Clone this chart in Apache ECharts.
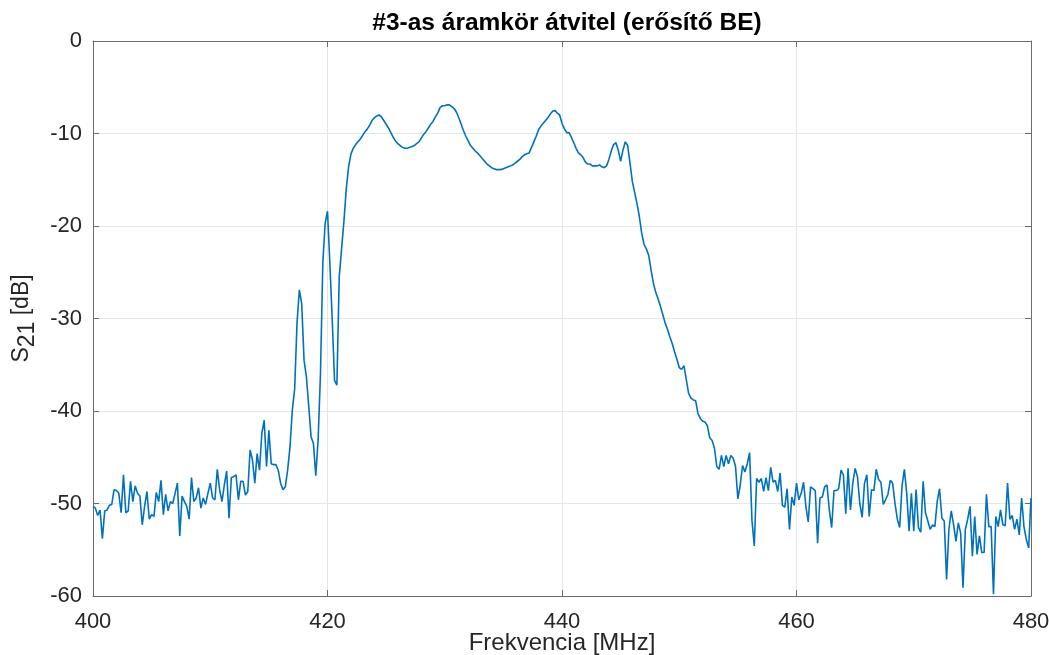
<!DOCTYPE html>
<html>
<head>
<meta charset="utf-8">
<script src="https://cdn.jsdelivr.net/npm/echarts@6/dist/echarts.min.js"></script>
<style>
html,body{margin:0;padding:0;background:#fff;}
#chart{width:1049px;height:655px;}
</style>
</head>
<body>
<div id="chart"></div>
<script>
// Measurement: S21 [dB] sampled every 0.2 MHz from 400 to 480 MHz
const freqStart = 400;
const freqStep = 0.2;
const s21 = [
-50.3,-50.5,-51.3,-50.7,-53.8,-50.8,-50.7,-50.2,-50.1,-48.5,
-48.6,-48.9,-51.0,-46.9,-51.0,-50.8,-47.6,-49.8,-48.1,-48.9,
-49.2,-52.3,-50.3,-48.7,-51.7,-51.2,-51.4,-48.8,-49.8,-47.5,
-51.2,-49.0,-50.8,-49.8,-50.0,-48.9,-47.8,-53.5,-49.2,-49.8,
-50.3,-51.7,-47.2,-49.8,-49.4,-48.3,-50.5,-49.4,-50.1,-48.9,
-47.8,-49.4,-49.6,-46.3,-48.5,-49.8,-48.0,-46.5,-51.6,-47.2,
-47.1,-46.9,-49.6,-47.6,-47.6,-49.1,-48.7,-44.2,-45.3,-47.8,
-44.6,-46.4,-42.4,-41.0,-46.0,-42.1,-45.7,-45.8,-45.8,-46.4,
-47.8,-48.5,-48.2,-46.4,-43.9,-39.9,-37.6,-30.5,-26.9,-28.4,
-34.5,-36.3,-39.5,-42.8,-43.5,-47.0,-43.1,-36.0,-24.0,-19.7,
-18.4,-24.0,-30.0,-36.7,-37.2,-25.5,-22.5,-19.5,-16.0,-13.6,
-12.2,-11.6,-11.2,-10.9,-10.6,-10.2,-9.8,-9.5,-9.1,-8.6,
-8.3,-8.1,-8.0,-8.2,-8.6,-9.0,-9.4,-9.9,-10.4,-10.8,
-11.1,-11.3,-11.5,-11.6,-11.6,-11.5,-11.4,-11.3,-11.1,-10.9,
-10.5,-10.1,-9.8,-9.4,-9.0,-8.7,-8.2,-7.8,-7.2,-7.0,
-7.0,-6.9,-6.9,-7.1,-7.3,-7.7,-8.3,-9.0,-9.7,-10.3,
-10.8,-11.3,-11.6,-11.9,-12.1,-12.4,-12.7,-13.0,-13.3,-13.5,
-13.7,-13.8,-13.9,-13.9,-13.9,-13.8,-13.7,-13.6,-13.5,-13.4,
-13.2,-13.0,-12.8,-12.5,-12.3,-12.2,-12.1,-11.5,-10.9,-10.3,
-9.6,-9.2,-8.9,-8.6,-8.3,-7.9,-7.6,-7.5,-7.8,-8.0,
-8.9,-9.5,-9.9,-9.9,-10.4,-11.0,-11.6,-12.1,-12.3,-12.6,
-13.1,-13.3,-13.3,-13.5,-13.5,-13.5,-13.4,-13.6,-13.7,-13.5,
-12.8,-11.9,-11.2,-11.0,-11.8,-13.0,-11.8,-10.9,-11.3,-13.2,
-15.2,-16.4,-17.6,-19.0,-20.8,-22.0,-22.5,-23.2,-24.8,-26.2,
-27.2,-27.9,-28.7,-29.6,-30.5,-31.2,-32.0,-32.7,-33.6,-34.4,
-35.3,-35.5,-35.1,-36.6,-38.1,-38.6,-38.8,-38.9,-40.3,-40.8,
-41.1,-41.2,-41.6,-42.9,-43.2,-44.0,-46.0,-46.3,-44.8,-46.0,
-44.8,-45.7,-44.8,-45.1,-46.0,-49.5,-48.0,-45.9,-46.6,-45.7,
-44.5,-51.8,-54.6,-47.3,-47.7,-47.3,-48.7,-47.2,-48.6,-46.1,
-47.7,-47.5,-48.7,-46.7,-50.2,-50.4,-48.4,-52.8,-49.3,-50.2,
-47.8,-49.6,-48.9,-47.7,-50.3,-52.0,-48.2,-48.4,-48.6,-54.3,
-49.4,-49.3,-48.2,-48.0,-50.7,-52.6,-48.6,-48.6,-48.4,-46.4,
-46.9,-51.1,-46.2,-50.7,-47.8,-46.2,-47.1,-50.0,-51.5,-47.8,
-46.9,-51.4,-48.5,-48.6,-46.3,-47.4,-47.7,-50.1,-49.6,-49.0,
-47.5,-47.8,-50.0,-51.7,-52.6,-48.1,-46.3,-48.9,-53.0,-48.9,
-53.0,-48.5,-52.6,-53.1,-47.6,-51.0,-51.9,-52.8,-52.3,-52.5,
-49.8,-48.4,-51.6,-51.9,-58.2,-52.8,-50.8,-52.3,-54.1,-52.1,
-53.2,-59.1,-52.8,-51.7,-50.3,-55.7,-51.4,-55.5,-53.5,-55.3,
-55.3,-49.0,-52.5,-52.5,-59.8,-51.4,-52.5,-50.7,-52.3,-52.4,
-47.8,-51.7,-51.3,-52.8,-51.7,-53.4,-49.4,-52.5,-53.9,-54.8,
-49.4
];
const xTicks = [400, 420, 440, 460, 480];
const yTicks = [-60, -50, -40, -30, -20, -10, 0];
const titleText = '#3-as áramkör átvitel (erősítő BE)';
const xName = 'Frekvencia [MHz]';
const yNameMain = 'S';
const yNameSub = '21';
const yNameUnit = ' [dB]';

const seriesData = s21.map((v, i) => [+(freqStart + i * freqStep).toFixed(1), v]);

const axisColor = '#6b6b6b';
const textColor = '#262626';
const gridColor = '#e6e6e6';
const font = 'Liberation Sans, Arial, Helvetica, sans-serif';

const chart = echarts.init(document.getElementById('chart'), null, {renderer: 'canvas'});
chart.setOption({
  animation: false,
  backgroundColor: '#fff',
  title: {
    text: titleText,
    left: 562, top: 6, textAlign: 'center',
    textStyle: {fontFamily: font, fontWeight: 'bold', fontSize: 24.5, color: '#000'}
  },
  grid: {left: 93, right: 18, top: 41, bottom: 59, show: false, containLabel: false, outerBoundsMode: 'none'},
  xAxis: [{
    type: 'value', min: 400, max: 480, interval: 20, position: 'bottom',
    name: xName, nameLocation: 'middle', nameGap: 35, nameMoveOverlap: false,
    nameTextStyle: {fontFamily: font, fontSize: 24, color: textColor},
    axisLine: {show: true, onZero: false, lineStyle: {color: axisColor, width: 1}},
    axisTick: {show: true, inside: true, length: 6, lineStyle: {color: axisColor}},
    axisLabel: {fontFamily: font, fontSize: 22, color: textColor, margin: 15,
      customValues: xTicks},
    splitLine: {show: true, lineStyle: {color: gridColor, width: 1}}
  }, {
    type: 'value', min: 400, max: 480, interval: 20, position: 'top',
    axisLine: {show: true, onZero: false, lineStyle: {color: axisColor, width: 1}},
    axisTick: {show: true, inside: true, length: 6, lineStyle: {color: axisColor}},
    axisLabel: {show: false},
    splitLine: {show: false}
  }],
  yAxis: [{
    type: 'value', min: -60, max: 0, interval: 10, position: 'left',
    name: '{n|' + yNameMain + '}{s|' + yNameSub + '}{n|' + yNameUnit + '}',
    nameLocation: 'middle', nameGap: 47, nameRotate: 90,
    nameTextStyle: {
      fontFamily: font, fontSize: 23, color: textColor,
      rich: {
        n: {fontFamily: font, fontSize: 23, color: textColor, lineHeight: 22, verticalAlign: 'top'},
        s: {fontFamily: font, fontSize: 23, color: textColor, lineHeight: 29, verticalAlign: 'bottom'}
      }
    },
    axisLine: {show: true, onZero: false, lineStyle: {color: axisColor, width: 1}},
    axisTick: {show: true, inside: true, length: 6, lineStyle: {color: axisColor}},
    axisLabel: {fontFamily: font, fontSize: 22, color: textColor, margin: 11,
      customValues: yTicks},
    splitLine: {show: true, lineStyle: {color: gridColor, width: 1}}
  }, {
    type: 'value', min: -60, max: 0, interval: 10, position: 'right',
    axisLine: {show: true, onZero: false, lineStyle: {color: axisColor, width: 1}},
    axisTick: {show: true, inside: true, length: 6, lineStyle: {color: axisColor}},
    axisLabel: {show: false},
    splitLine: {show: false}
  }],
  series: [{
    type: 'line',
    data: seriesData,
    xAxisIndex: 0, yAxisIndex: 0,
    showSymbol: false, symbol: 'none',
    lineStyle: {color: '#0072BD', width: 1.6},
    clip: true
  }]
});
</script>
</body>
</html>
